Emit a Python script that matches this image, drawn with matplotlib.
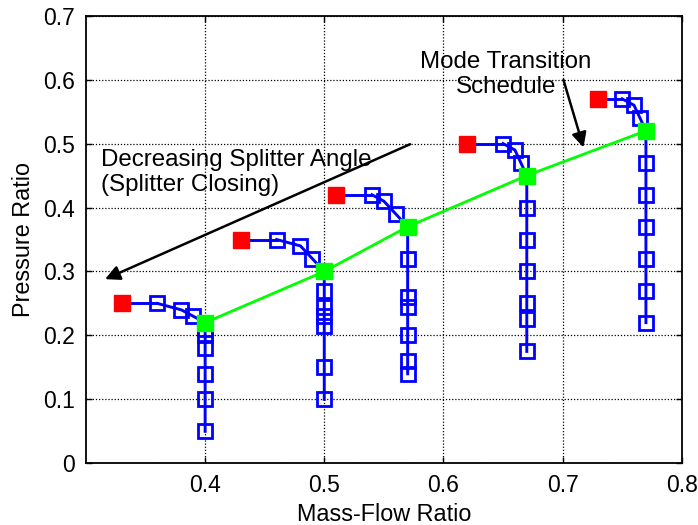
import matplotlib.pyplot as plt

plt.rcParams["font.family"] = ["Liberation Sans", "DejaVu Sans"]

# five splitter-angle runs: red start point, blue path, green transition point
runs_x = [
    [0.33, 0.36, 0.38, 0.39, 0.40, 0.40, 0.40, 0.40, 0.40, 0.40, 0.40],
    [0.43, 0.46, 0.48, 0.49, 0.50, 0.50, 0.50, 0.50, 0.50, 0.50, 0.50],
    [0.51, 0.54, 0.55, 0.56, 0.57, 0.57, 0.57, 0.57, 0.57, 0.57, 0.57],
    [0.62, 0.65, 0.66, 0.665, 0.67, 0.67, 0.67, 0.67, 0.67, 0.67, 0.67],
    [0.73, 0.75, 0.76, 0.765, 0.77, 0.77, 0.77, 0.77, 0.77, 0.77, 0.77],
]
runs_y = [
    [0.25, 0.25, 0.24, 0.23, 0.22, 0.21, 0.20, 0.18, 0.14, 0.10, 0.05],
    [0.35, 0.35, 0.34, 0.32, 0.30, 0.27, 0.245, 0.23, 0.215, 0.15, 0.10],
    [0.42, 0.42, 0.41, 0.39, 0.37, 0.32, 0.26, 0.245, 0.20, 0.16, 0.14],
    [0.50, 0.50, 0.49, 0.47, 0.45, 0.40, 0.35, 0.30, 0.25, 0.225, 0.175],
    [0.57, 0.57, 0.56, 0.54, 0.52, 0.47, 0.42, 0.37, 0.32, 0.27, 0.22],
]

schedule_x = [0.40, 0.50, 0.57, 0.67, 0.77]
schedule_y = [0.22, 0.30, 0.37, 0.45, 0.52]

xticks = [0.4, 0.5, 0.6, 0.7, 0.8]
xticklabels = ["0.4", "0.5", "0.6", "0.7", "0.8"]
yticks = [0, 0.1, 0.2, 0.3, 0.4, 0.5, 0.6, 0.7]
yticklabels = ["0", "0.1", "0.2", "0.3", "0.4", "0.5", "0.6", "0.7"]

fs = 16.5
fs_note = 17.4

fig = plt.figure(figsize=(6.98, 5.25), dpi=100)
ax = fig.add_axes([0.1232, 0.1175, 0.8534, 0.8526])

for xs, ys in zip(runs_x, runs_y):
    ax.plot(xs[1:], ys[1:], color="#0000ff", lw=2.1, marker="s", ms=10,
            mfc="none", mec="#0000ff", mew=2, zorder=3)
    ax.plot(xs[:2], ys[:2], color="#0000ff", lw=2.1, zorder=3)
    ax.plot(xs[0], ys[0], marker="s", ms=11, color="#ff0000", zorder=4)

ax.plot(schedule_x, schedule_y, color="#00ff00", lw=2, zorder=4)
ax.plot(schedule_x, schedule_y, ls="none", marker="s", ms=11,
        color="#00ff00", zorder=5)

ax.text(0.3126, 0.492, "Decreasing Splitter Angle\n(Splitter Closing)",
        ha="left", va="top", fontsize=fs_note)
ax.annotate("", xy=(0.316, 0.288), xytext=(0.572, 0.499),
            arrowprops=dict(arrowstyle="-|>", color="black", lw=1.8,
                            mutation_scale=22, shrinkA=0, shrinkB=0))

ax.text(0.6527, 0.645, "Mode Transition\nSchedule", ha="center", va="top",
        fontsize=fs_note)
ax.annotate("", xy=(0.7176, 0.494), xytext=(0.7008, 0.5995),
            arrowprops=dict(arrowstyle="-|>", color="black", lw=1.8,
                            mutation_scale=22, shrinkA=0, shrinkB=0))

ax.set_xlim(0.3, 0.8)
ax.set_ylim(0, 0.7)
ax.set_xticks(xticks)
ax.set_xticklabels(xticklabels)
ax.set_yticks(yticks)
ax.set_yticklabels(yticklabels)
ax.tick_params(direction="in", top=True, right=True, length=4, width=1,
               labelsize=fs, pad=8)
ax.grid(True, color="black", linestyle=(0, (1, 1.5)), linewidth=0.9)
for s in ax.spines.values():
    s.set_linewidth(1.3)

ax.set_xlabel("Mass-Flow Ratio", fontsize=16.8, labelpad=4)
ax.set_ylabel("Pressure Ratio", fontsize=16.8, labelpad=6)

fig.savefig("out.png", dpi=100)
